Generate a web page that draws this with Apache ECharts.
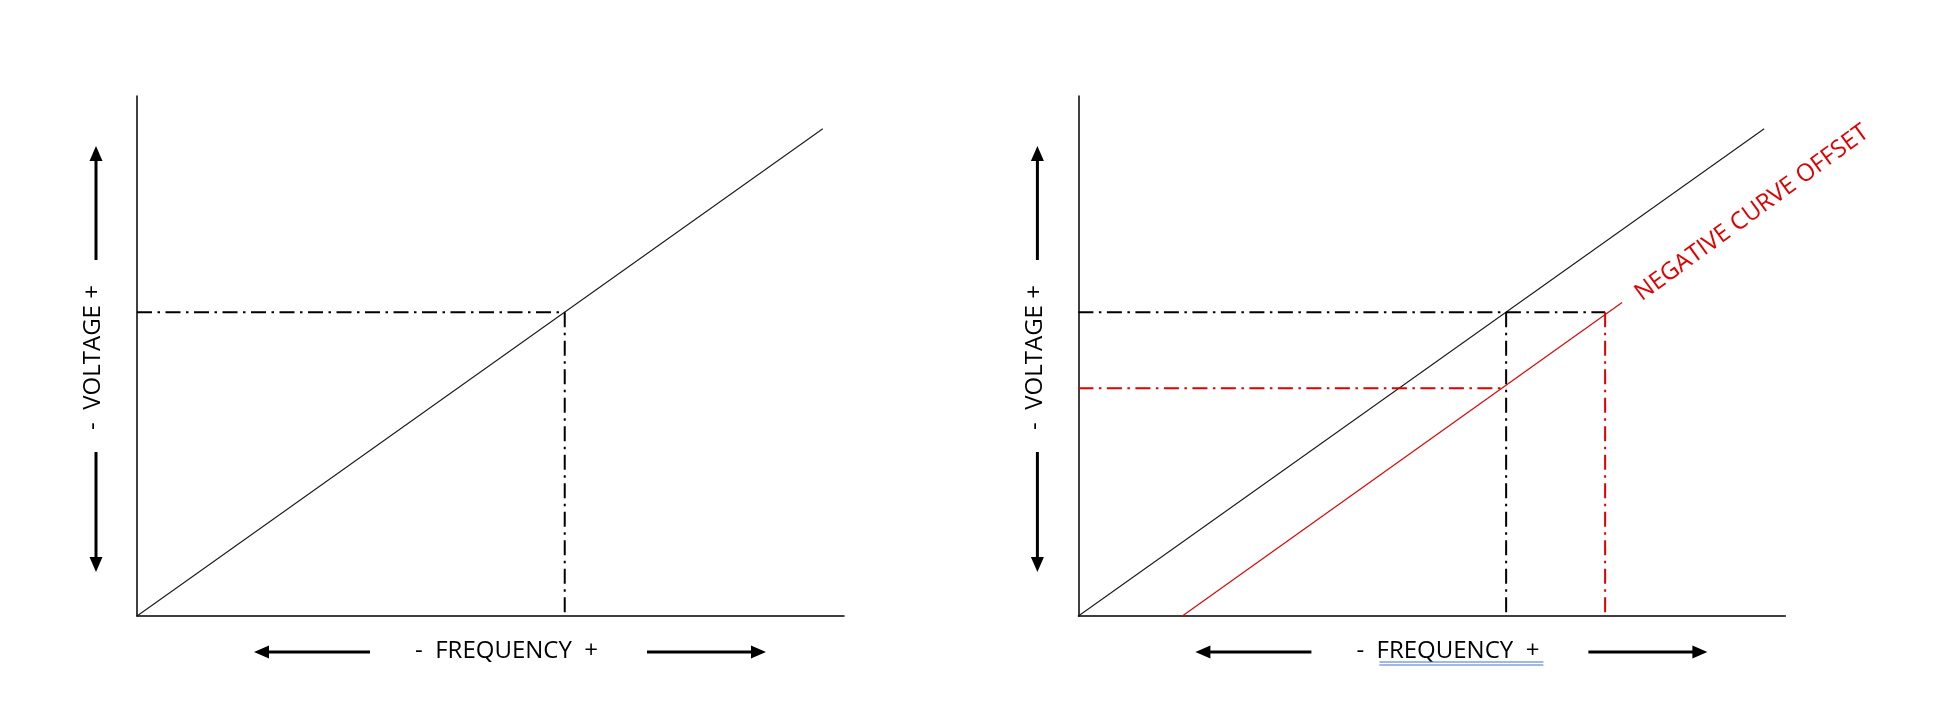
<!DOCTYPE html>
<html>
<head>
<meta charset="utf-8">
<script src="https://cdn.jsdelivr.net/npm/echarts@6/dist/echarts.min.js"></script>
<style>
html,body{margin:0;padding:0;background:#fff;}
#main{width:1937px;height:707px;}
</style>
</head>
<body>
<div id="main"></div>
<script>
// ---- data (axis units 0..100, no numeric ticks shown) ----
const curveFreq = [0, 97];
const curveVolt = [0, 93.7];
const offsetCurveFreq = [14.7, 76.9];
const offsetCurveVolt = [0, 60.3];
const operatingFreq = 60.5;
const operatingVolt = 58.4;
const offsetFreq = 74.5;
const offsetVolt = 43.8;
const voltageLabel = '-  VOLTAGE +';
const frequencyLabel = '-  FREQUENCY  +';
const offsetLabel = 'NEGATIVE CURVE OFFSET';

const FONT = '"Open Sans", "Noto Sans", sans-serif';
const RED = '#e00000';
const DASHDOT = [15, 5.5, 2.5, 5.5];

function pairs(xs, ys) { return xs.map((x, i) => [x, ys[i]]); }

function solid(grid, xs, ys, color) {
  return {
    type: 'line', xAxisIndex: grid, yAxisIndex: grid, data: pairs(xs, ys),
    showSymbol: false, symbol: 'none', silent: true,
    lineStyle: { color: color, width: 1.1 }
  };
}
function dashdot(grid, xs, ys, color) {
  return {
    type: 'line', xAxisIndex: grid, yAxisIndex: grid, data: pairs(xs, ys),
    showSymbol: false, symbol: 'none', silent: true,
    lineStyle: { color: color, width: 2, type: DASHDOT }
  };
}

const axisCommon = {
  type: 'value', min: 0, max: 100,
  axisLine: { show: true, onZero: false, lineStyle: { color: '#000', width: 1.5 } },
  axisTick: { show: false }, axisLabel: { show: false }, splitLine: { show: false }
};

const series = [
  // left panel
  solid(0, curveFreq, curveVolt, '#1a1a1a'),
  dashdot(0, [0, operatingFreq], [operatingVolt, operatingVolt], '#000'),
  dashdot(0, [operatingFreq, operatingFreq], [operatingVolt, 0], '#000'),
  // right panel
  solid(1, curveFreq, curveVolt, '#1a1a1a'),
  solid(1, offsetCurveFreq, offsetCurveVolt, RED),
  dashdot(1, [0, offsetFreq], [operatingVolt, operatingVolt], '#000'),
  dashdot(1, [operatingFreq, operatingFreq], [operatingVolt, 0], '#000'),
  dashdot(1, [0, operatingFreq], [offsetVolt, offsetVolt], RED),
  dashdot(1, [offsetFreq, offsetFreq], [operatingVolt, 0], RED)
];

// decorative arrows and labels for one panel, shifted by dx
function panelGraphics(dx, underline) {
  const g = [];
  const ax = 96 + dx;
  const ay = 652;
  const lw = 3;
  // vertical up arrow
  g.push({ type: 'line', shape: { x1: ax, y1: 260, x2: ax, y2: 158 }, style: { stroke: '#000', lineWidth: lw } });
  g.push({ type: 'polygon', shape: { points: [[ax, 146], [ax - 6.5, 161], [ax + 6.5, 161]] }, style: { fill: '#000' } });
  // vertical down arrow
  g.push({ type: 'line', shape: { x1: ax, y1: 452, x2: ax, y2: 560 }, style: { stroke: '#000', lineWidth: lw } });
  g.push({ type: 'polygon', shape: { points: [[ax, 572], [ax - 6.5, 557], [ax + 6.5, 557]] }, style: { fill: '#000' } });
  // horizontal left arrow
  g.push({ type: 'line', shape: { x1: 370 + dx, y1: ay, x2: 266 + dx, y2: ay }, style: { stroke: '#000', lineWidth: lw } });
  g.push({ type: 'polygon', shape: { points: [[254 + dx, ay], [269 + dx, ay - 6.5], [269 + dx, ay + 6.5]] }, style: { fill: '#000' } });
  // horizontal right arrow
  g.push({ type: 'line', shape: { x1: 647 + dx, y1: ay, x2: 754 + dx, y2: ay }, style: { stroke: '#000', lineWidth: lw } });
  g.push({ type: 'polygon', shape: { points: [[766 + dx, ay], [751 + dx, ay - 6.5], [751 + dx, ay + 6.5]] }, style: { fill: '#000' } });
  // labels
  g.push({ type: 'text', x: 93.5 + dx, y: 357.5, rotation: Math.PI / 2,
    style: { text: voltageLabel, fill: '#000', font: '24px ' + FONT, textAlign: 'center', textVerticalAlign: 'middle' } });
  g.push({ type: 'text', x: 506.5 + dx, y: 651,
    style: { text: frequencyLabel, fill: '#000', font: '24px ' + FONT, textAlign: 'center', textVerticalAlign: 'middle' } });
  if (underline) {
    g.push({ type: 'line', shape: { x1: 438 + dx, y1: 662, x2: 602 + dx, y2: 662 }, style: { stroke: '#4472c4', lineWidth: 1 } });
    g.push({ type: 'line', shape: { x1: 438 + dx, y1: 665, x2: 602 + dx, y2: 665 }, style: { stroke: '#4472c4', lineWidth: 1 } });
  }
  return g;
}

const graphics = panelGraphics(0, false).concat(panelGraphics(941.4, true));
graphics.push({ type: 'text', x: 1752, y: 213, rotation: 36 * Math.PI / 180,
  style: { text: offsetLabel, fill: RED, font: '24px ' + FONT, textAlign: 'center', textVerticalAlign: 'middle' } });

const chart = echarts.init(document.getElementById('main'), null, { renderer: 'canvas' });
chart.setOption({
  animation: false,
  backgroundColor: '#fff',
  grid: [
    { left: 137, top: 96, width: 707, height: 520 },
    { left: 1078.4, top: 96, width: 707, height: 520 }
  ],
  xAxis: [Object.assign({ gridIndex: 0 }, axisCommon), Object.assign({ gridIndex: 1 }, axisCommon)],
  yAxis: [Object.assign({ gridIndex: 0 }, axisCommon), Object.assign({ gridIndex: 1 }, axisCommon)],
  series: series,
  graphic: graphics
});
</script>
</body>
</html>
